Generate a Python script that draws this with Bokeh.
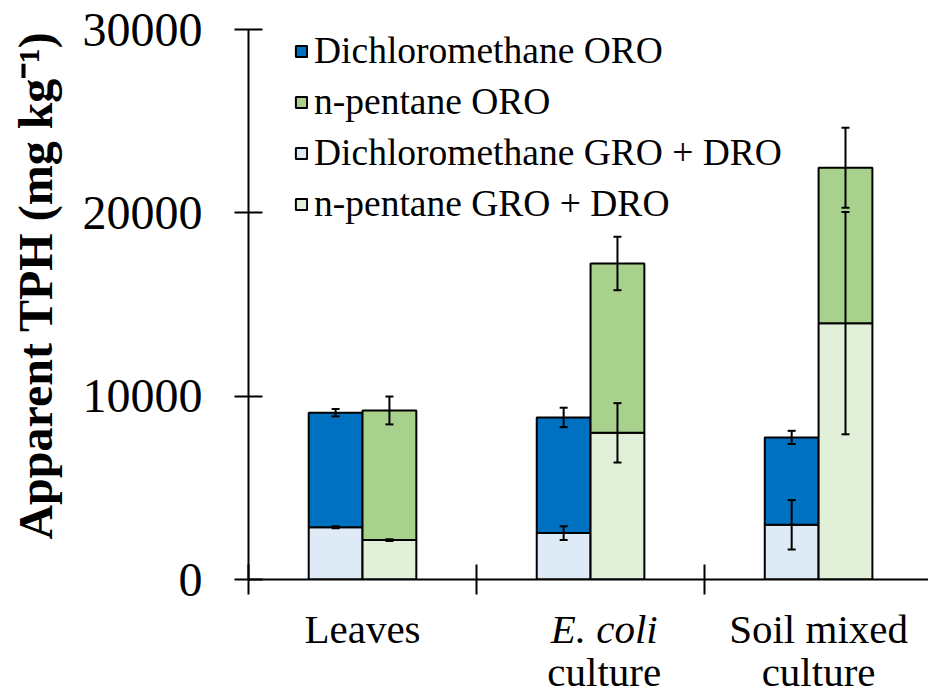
import math
from bokeh.plotting import figure
from bokeh.layouts import row, column
from bokeh.models import (Range1d, FixedTicker, NumeralTickFormatter, Whisker,
                          ColumnDataSource, Legend, LegendItem, TeeHead)
from bokeh.core.properties import value
from bokeh.embed import file_html
from bokeh.resources import INLINE

# ---- data ----
categories = ["Leaves", "E. coli culture", "Soil mixed culture"]
dcm_gro = [2850, 2530, 2980]          # Dichloromethane GRO + DRO
dcm_total = [9100, 8840, 7750]        # Dichloromethane total (GRO+DRO+ORO)
pen_gro = [2150, 8000, 13980]         # n-pentane GRO + DRO
pen_total = [9220, 17240, 22460]      # n-pentane total
dcm_gro_err = [60, 380, 1350]
dcm_total_err = [200, 530, 360]
pen_gro_err = [50, 1620, 6060]
pen_total_err = [760, 1460, 2180]
y_ticks = [0, 10000, 20000, 30000]
x_boundaries = [0, 1, 2, 3]
y_label = "Apparent TPH (mg kg\u207b\u00b9)"

FONT = "Liberation Serif"
C_DCM_ORO = "#0070C0"
C_PEN_ORO = "#A9D18E"
C_DCM_GRO = "#DEEBF7"
C_PEN_GRO = "#E2F0D9"

BAR_W = 0.236
OFF = 0.118
centers = [i + 0.5 for i in range(len(categories))]
x_dcm = [c - OFF for c in centers]
x_pen = [c + OFF for c in centers]

xr = Range1d(0, 2.982)

# ---------- main plot ----------
p = figure(width=858, height=606, output_backend="svg", toolbar_location=None,
           title_location=None,
           x_range=xr, y_range=Range1d(0, 30000),
           min_border_left=178, min_border_right=0, min_border_top=29,
           min_border_bottom=27)
p.outline_line_color = None
p.xgrid.visible = False
p.ygrid.visible = False

src = ColumnDataSource(dict(
    x_dcm=x_dcm, x_pen=x_pen,
    dcm_gro=dcm_gro, dcm_total=dcm_total, pen_gro=pen_gro, pen_total=pen_total,
    dcm_gro_lo=[v - e for v, e in zip(dcm_gro, dcm_gro_err)],
    dcm_gro_hi=[v + e for v, e in zip(dcm_gro, dcm_gro_err)],
    dcm_tot_lo=[v - e for v, e in zip(dcm_total, dcm_total_err)],
    dcm_tot_hi=[v + e for v, e in zip(dcm_total, dcm_total_err)],
    pen_gro_lo=[v - e for v, e in zip(pen_gro, pen_gro_err)],
    pen_gro_hi=[v + e for v, e in zip(pen_gro, pen_gro_err)],
    pen_tot_lo=[v - e for v, e in zip(pen_total, pen_total_err)],
    pen_tot_hi=[v + e for v, e in zip(pen_total, pen_total_err)],
))

lw = 2
r_dcm_gro = p.vbar(x="x_dcm", width=BAR_W, bottom=0, top="dcm_gro", source=src,
                   fill_color=C_DCM_GRO, line_color="black", line_width=lw)
r_dcm_oro = p.vbar(x="x_dcm", width=BAR_W, bottom="dcm_gro", top="dcm_total", source=src,
                   fill_color=C_DCM_ORO, line_color="black", line_width=lw)
r_pen_gro = p.vbar(x="x_pen", width=BAR_W, bottom=0, top="pen_gro", source=src,
                   fill_color=C_PEN_GRO, line_color="black", line_width=lw)
r_pen_oro = p.vbar(x="x_pen", width=BAR_W, bottom="pen_gro", top="pen_total", source=src,
                   fill_color=C_PEN_ORO, line_color="black", line_width=lw)

for base, lo, hi in [("x_dcm", "dcm_gro_lo", "dcm_gro_hi"),
                     ("x_dcm", "dcm_tot_lo", "dcm_tot_hi"),
                     ("x_pen", "pen_gro_lo", "pen_gro_hi"),
                     ("x_pen", "pen_tot_lo", "pen_tot_hi")]:
    w = Whisker(source=src, base=base, lower=lo, upper=hi, dimension="height",
                line_color="black", line_width=2, level="overlay",
                upper_head=TeeHead(size=8, line_width=2, line_color="black"),
                lower_head=TeeHead(size=8, line_width=2, line_color="black"))
    p.add_layout(w)

legend = Legend(items=[
    LegendItem(label="Dichloromethane ORO", renderers=[r_dcm_oro]),
    LegendItem(label="n-pentane ORO", renderers=[r_pen_oro]),
    LegendItem(label="Dichloromethane GRO + DRO", renderers=[r_dcm_gro]),
    LegendItem(label="n-pentane GRO + DRO", renderers=[r_pen_gro]),
])
legend.border_line_color = None
legend.background_fill_alpha = 0
legend.label_text_font = FONT
legend.label_text_font_size = "37.5px"
legend.label_text_color = "black"
legend.glyph_width = 14
legend.glyph_height = 14
legend.label_standoff = 6
legend.label_height = 36
legend.spacing = 8
legend.padding = 0
legend.margin = 0
legend.location = (46, 354)
p.add_layout(legend)

# y axis
yax = p.yaxis[0]
yax.ticker = FixedTicker(ticks=y_ticks)
yax.formatter = NumeralTickFormatter(format="0")
yax.axis_line_width = 2
yax.major_tick_line_width = 2
yax.major_tick_in = 14
yax.major_tick_out = 14
yax.minor_tick_line_color = None
yax.major_label_text_font = FONT
yax.major_label_text_font_size = "48px"
yax.major_label_text_color = "black"
yax.major_label_standoff = 32

# x axis: boundary ticks only (drawn as minor ticks, no labels)
xax = p.xaxis[0]
xax.ticker = FixedTicker(ticks=[], minor_ticks=x_boundaries)
xax.axis_line_width = 2
xax.major_tick_line_color = None
xax.minor_tick_line_color = "black"
xax.minor_tick_line_width = 2
xax.minor_tick_in = 15
xax.minor_tick_out = 15

# ---------- y label strip ----------
L = figure(width=70, height=693, output_backend="svg", toolbar_location=None,
           title_location=None,
           x_range=Range1d(0, 70), y_range=Range1d(0, 693),
           x_axis_location=None, y_axis_location=None,
           min_border_left=0, min_border_right=0, min_border_top=0, min_border_bottom=0)
L.outline_line_color = None
L.grid.visible = False
L.text(x=[35], y=[408], text=[y_label], angle=math.pi / 2,
       text_align="center", text_baseline="middle",
       text_font=value(FONT), text_font_style=value("bold"),
       text_font_size=value("48px"), text_color="black")

# ---------- category label strip ----------
B = figure(width=858, height=87, output_backend="svg", toolbar_location=None,
           title_location=None,
           x_range=xr, y_range=Range1d(0, 87),
           x_axis_location=None, y_axis_location=None,
           min_border_left=178, min_border_right=0, min_border_top=0, min_border_bottom=0)
B.outline_line_color = None
B.grid.visible = False
line1 = 65
line2 = 22
B.text(x=[0.5, 2.5], y=[line1, line1], text=["Leaves", "Soil mixed"],
       text_align="center", text_baseline="alphabetic",
       text_font=value(FONT), text_font_size=value("41px"), text_color="black")
B.text(x=[1.56], y=[line1], text=["E. coli"],
       text_align="center", text_baseline="alphabetic",
       text_font=value(FONT), text_font_style=value("italic"),
       text_font_size=value("41px"), text_color="black")
B.text(x=[1.56, 2.5], y=[line2, line2], text=["culture", "culture"],
       text_align="center", text_baseline="alphabetic",
       text_font=value(FONT), text_font_size=value("41px"), text_color="black")

layout = row(L, column(p, B, spacing=0), spacing=0)
open("out.html", "w").write(file_html(layout, INLINE))
